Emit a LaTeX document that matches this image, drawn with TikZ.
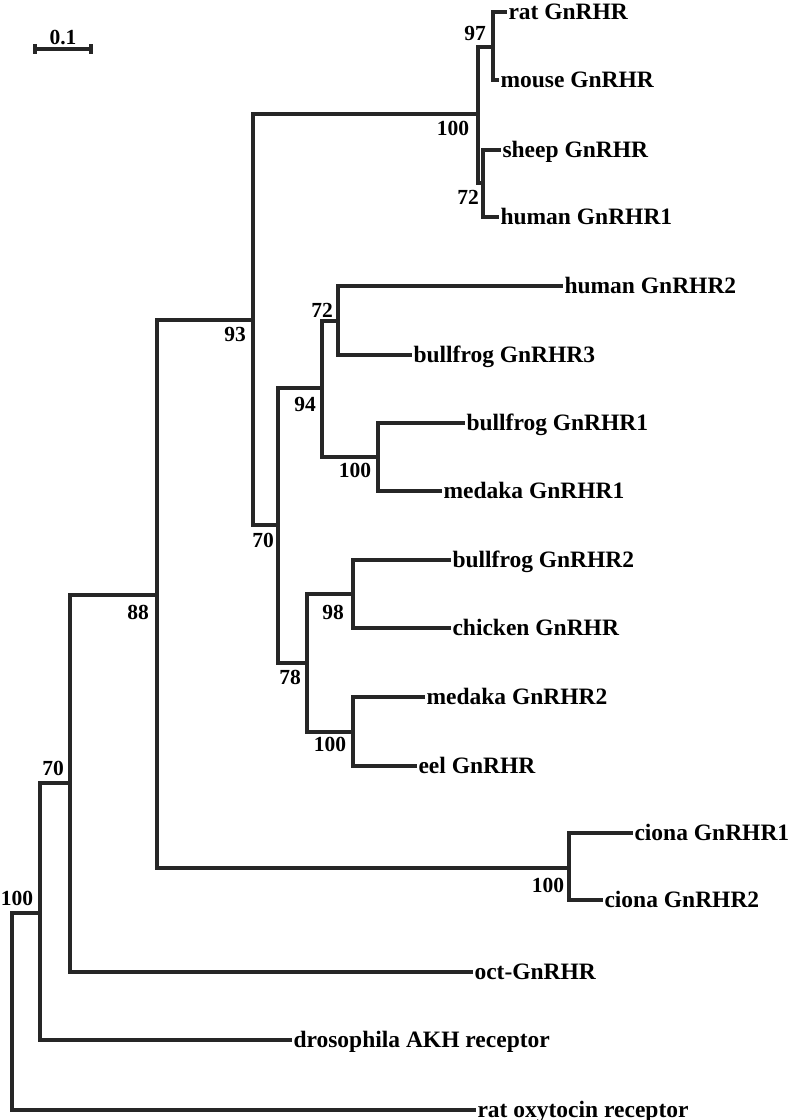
\documentclass[tikz,border=0pt]{standalone}
\usepackage{fontspec}
\setmainfont{Liberation Serif}
\begin{document}
\begin{tikzpicture}[x=1pt, y=-1pt,
                    leaf/.style={anchor=west, inner sep=1.5pt, outer sep=0pt, font=\fontsize{23.5}{26}\selectfont\bfseries, text height=16pt, text depth=2pt},
                    boot/.style={inner sep=0pt, font=\fontsize{21.5}{24}\selectfont\bfseries},
                    branch/.style={draw=black!85, line width=3.2pt, line join=miter}]

                    \useasboundingbox (0,0) rectangle (792,1120);

                    % Define inner nodes
                    \coordinate (root) at (12,1011);   % Root
                    \coordinate (nA) at (40,913);      % AKH + GnRHR
                    \coordinate (nB) at (70,783);      % oct + GnRHR
                    \coordinate (nC) at (157,595);     % chordate GnRHR
                    \coordinate (nCiona) at (569,868); % ciona
                    \coordinate (nD) at (253,320);     % vertebrate GnRHR
                    \coordinate (nTop) at (478,114);   % mammal type I
                    \coordinate (nRat) at (493,47);    % rat + mouse
                    \coordinate (nSheep) at (483,183); % sheep + human
                    \coordinate (nE) at (278,525);
                    \coordinate (nF) at (322,388);
                    \coordinate (nH) at (338,321);     % human2 + bullfrog3
                    \coordinate (nI) at (378,457);     % bullfrog1 + medaka1
                    \coordinate (nG) at (307,663);
                    \coordinate (nJ) at (353,594);     % bullfrog2 + chicken
                    \coordinate (nK) at (353,732);     % medaka2 + eel

                    % Define leaves
                    \node[leaf] (rat) at (507,12) {rat GnRHR};
                    \node[leaf] (mouse) at (499,80) {mouse GnRHR};
                    \node[leaf] (sheep) at (501,150) {sheep GnRHR};
                    \node[leaf] (human1) at (499,217) {human GnRHR1};
                    \node[leaf] (human2) at (563,286) {human GnRHR2};
                    \node[leaf] (frog3) at (412,355) {bullfrog GnRHR3};
                    \node[leaf] (frog1) at (465,423) {bullfrog GnRHR1};
                    \node[leaf] (medaka1) at (442,491) {medaka GnRHR1};
                    \node[leaf] (frog2) at (451,560) {bullfrog GnRHR2};
                    \node[leaf] (chicken) at (451,628) {chicken GnRHR};
                    \node[leaf] (medaka2) at (425,697) {medaka GnRHR2};
                    \node[leaf] (eel) at (417,766) {eel GnRHR};
                    \node[leaf] (ciona1) at (633,833) {ciona GnRHR1};
                    \node[leaf] (ciona2) at (603,900) {ciona GnRHR2};
                    \node[leaf] (oct) at (473,972) {oct-GnRHR};
                    \node[leaf] (akh) at (292,1040) {drosophila AKH receptor};
                    \node[leaf] (oxy) at (476,1110) {rat oxytocin receptor};

                    % Define bootstrap values
                    \node[boot] (bRat) at (475,33) {97};
                    \node[boot] (bTop) at (453,128) {100};
                    \node[boot] (bSheep) at (468,197) {72};
                    \node[boot] (bD) at (235,334) {93};
                    \node[boot] (bH) at (322,310) {72};
                    \node[boot] (bF) at (305,404) {94};
                    \node[boot] (bI) at (355,470) {100};
                    \node[boot] (bE) at (263,540) {70};
                    \node[boot] (bJ) at (333,612) {98};
                    \node[boot] (bG) at (290,677) {78};
                    \node[boot] (bK) at (330,744) {100};
                    \node[boot] (bC) at (138,612) {88};
                    \node[boot] (bB) at (53,768) {70};
                    \node[boot] (bCiona) at (548,885) {100};
                    \node[boot] (bA) at (17,898) {100};

                    % Define branches
                    \path[branch] (root) |- (nA);
                    \path[branch] (root) |- (oxy.west);
                    \path[branch] (nA) |- (nB);
                    \path[branch] (nA) |- (akh.west);
                    \path[branch] (nB) |- (nC);
                    \path[branch] (nB) |- (oct.west);
                    \path[branch] (nC) |- (nD);
                    \path[branch] (nC) |- (nCiona);
                    \path[branch] (nCiona) |- (ciona1.west);
                    \path[branch] (nCiona) |- (ciona2.west);
                    \path[branch] (nD) |- (nTop);
                    \path[branch] (nD) |- (nE);
                    \path[branch] (nTop) |- (nRat);
                    \path[branch] (nTop) |- (nSheep);
                    \path[branch] (nRat) |- (rat.west);
                    \path[branch] (nRat) |- (mouse.west);
                    \path[branch] (nSheep) |- (sheep.west);
                    \path[branch] (nSheep) |- (human1.west);
                    \path[branch] (nE) |- (nF);
                    \path[branch] (nE) |- (nG);
                    \path[branch] (nF) |- (nH);
                    \path[branch] (nF) |- (nI);
                    \path[branch] (nH) |- (human2.west);
                    \path[branch] (nH) |- (frog3.west);
                    \path[branch] (nI) |- (frog1.west);
                    \path[branch] (nI) |- (medaka1.west);
                    \path[branch] (nG) |- (nJ);
                    \path[branch] (nG) |- (nK);
                    \path[branch] (nJ) |- (frog2.west);
                    \path[branch] (nJ) |- (chicken.west);
                    \path[branch] (nK) |- (medaka2.west);
                    \path[branch] (nK) |- (eel.west);

                    % Scale bar
                    \coordinate (barL) at (35,49);
                    \coordinate (barR) at (91,49);
                    \node[boot] (barText) at (63,37) {0.1};
                    \path[branch] (barL) -- (barR);
                    \path[branch] ([yshift=5pt]barL) -- ([yshift=-5pt]barL);
                    \path[branch] ([yshift=5pt]barR) -- ([yshift=-5pt]barR);
                \end{tikzpicture}
\end{document}
